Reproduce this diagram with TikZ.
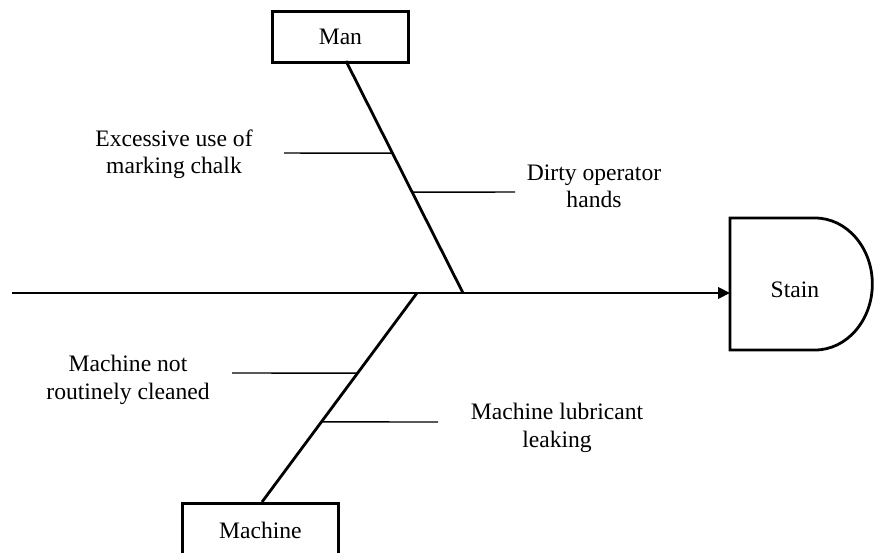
\documentclass[tikz,border=0pt]{standalone}
\usepackage{fontspec}
\setmainfont{Liberation Serif}
\usetikzlibrary{arrows.meta,calc}
\begin{document}
\begin{tikzpicture}[x=0.75pt,y=-0.75pt,
  every node/.style={font=\fontsize{17.7}{20.5}\selectfont, inner sep=0pt},
  catbox/.style={draw, line width=2.1pt, rectangle, anchor=north west},
  bone/.style={line width=2.1pt},
  rib/.style={line width=1.1pt},
  label/.style={align=center}]
\useasboundingbox (0,0) rectangle (876,553);

% category boxes
\node[catbox, minimum width=102pt, minimum height=38.25pt] (man) at (271,10) {};
\node at (man.center) {Man};
\node[catbox, minimum width=117pt, minimum height=42pt] (machine) at (181,502) {};
\node at ($(machine.north)+(0,28)$) {Machine};

% effect head (D shape)
\draw[line width=2.1pt] (730,218) -- (815,218)
  arc[start angle=90, end angle=-90, x radius=43pt, y radius=49.5pt]
  -- (730,350) -- cycle;
\node (stain) at (795,290) {Stain};
\coordinate (stainin) at (730,293);

% spine
\coordinate (tail) at (12,293);
\draw[bone, -{Triangle[length=9pt,width=8.5pt]}] (tail) -- (stainin);

% main bones
\coordinate (manfoot) at (346,61);
\coordinate (manjoint) at (463,293);
\coordinate (machtop) at (262,502);
\coordinate (machjoint) at (417,293);
\draw[bone] (manfoot) -- (manjoint);
\draw[bone] (machtop) -- (machjoint);

% causes on the Man bone
\coordinate (c1) at ($(manfoot)!0.397!(manjoint)$);
\coordinate (c2) at ($(manfoot)!0.565!(manjoint)$);
\draw[rib] (c1) -- (284,153);
\draw[rib] (c2) -- (515,192);
\node[label] (chalk) at (174,154) {Excessive use of\\marking chalk};
\node[label] (hands) at (594,186) {Dirty operator\\hands};

% causes on the Machine bone
\coordinate (c3) at ($(machjoint)!0.383!(machtop)$);
\coordinate (c4) at ($(machjoint)!0.617!(machtop)$);
\draw[rib] (c3) -- (232,373);
\draw[rib] (c4) -- (438,422);
\node[label] (clean) at (128,380) {Machine not\\routinely cleaned};
\node[label] (leak) at (557,428) {Machine lubricant\\leaking};
\end{tikzpicture}
\end{document}
